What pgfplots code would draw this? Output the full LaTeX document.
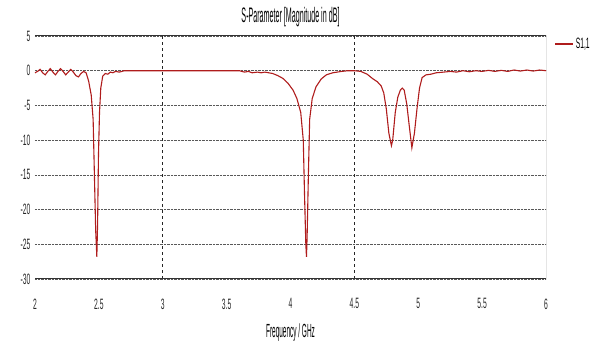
\documentclass[border=0pt]{standalone}
\usepackage{pgfplots}
\pgfplotsset{compat=1.18}
\usepackage{fontspec}
\setmainfont{Liberation Sans}[FakeStretch=0.45]
\newfontfamily\narrowfont{Liberation Sans}[FakeStretch=0.34]
\usetikzlibrary{calc}
\definecolor{curve}{RGB}{175,28,28}

\begin{document}
\begin{tikzpicture}
\begin{axis}[
  name=ax,
  scale only axis,
  width=511pt, height=243pt,
  xmin=2, xmax=6, ymin=-30, ymax=5,
  xtick={2,2.5,...,6},
  ytick={-30,-25,...,5},
  xticklabels={2,2.5,3,3.5,4,4.5,5,5.5,6},
  yticklabels={-30,-25,-20,-15,-10,-5,0,5},
  major tick length=0pt,
  axis line style={draw=none},
  ymajorgrids,
  grid style={black!65, densely dotted, line width=0.6pt},
  extra x ticks={3,4.5},
  extra x tick labels={},
  extra x tick style={grid=major, major grid style={black!85, dashed, line width=0.9pt}, major tick length=0pt},
  tick label style={font=\fontsize{15}{15}\selectfont, text=black!85},
  /pgf/number format/assume math mode=true,
  xticklabel style={yshift=-16pt},
  yticklabel style={xshift=-1pt},
  title={S-Parameter [Magnitude in dB]},
  title style={font=\narrowfont\fontsize{21}{21}\selectfont, yshift=0pt},
  xlabel={Frequency / GHz},
  xlabel style={font=\narrowfont\fontsize{19}{19}\selectfont, yshift=-8pt},
  legend style={at={(1,1)}, anchor=north west, xshift=7pt, yshift=1pt, draw=none, fill=none,
    font=\fontsize{15}{15}\selectfont, inner sep=1pt},
  legend cell align=left,
  legend image code/.code={\draw[#1, line width=1.6pt] (0pt,0pt) -- (18pt,0pt);},
]
\draw[black!80, line width=1pt] (rel axis cs:0,1) -- (rel axis cs:1,1) -- (rel axis cs:1,0) -- (rel axis cs:0,0);
\addplot[curve, line width=1.1pt] coordinates {
(2.00,-0.3) (2.02,-0.1) (2.04,0.2) (2.06,-0.3) (2.08,-0.6) (2.10,-0.1)
(2.12,0.3) (2.14,-0.2) (2.16,-0.6) (2.18,-0.1) (2.20,0.3) (2.22,-0.1)
(2.24,-0.6) (2.26,-0.2) (2.28,0.2) (2.30,-0.2) (2.32,-0.7) (2.34,-0.9)
(2.36,-0.4) (2.38,-0.1) (2.40,-0.3) (2.42,-1.5) (2.44,-3.5) (2.455,-7)
(2.465,-15) (2.475,-23) (2.484,-26.8) (2.49,-22) (2.497,-12) (2.505,-6)
(2.515,-2.5) (2.53,-0.8) (2.55,-0.4) (2.57,-0.5) (2.59,-0.2) (2.61,-0.3)
(2.63,-0.1) (2.66,-0.2) (2.70,0) (2.80,0) (2.90,0) (3.00,0) (3.10,0)
(3.20,0) (3.30,0) (3.40,0) (3.50,0) (3.60,0) (3.64,-0.2) (3.67,-0.1)
(3.70,-0.3) (3.74,-0.2) (3.77,-0.3) (3.80,-0.2) (3.83,-0.3) (3.86,-0.4)
(3.90,-0.7) (3.94,-1.1) (3.98,-1.8) (4.02,-2.8) (4.05,-4) (4.08,-6)
(4.10,-10) (4.11,-18) (4.12,-25) (4.125,-26.8) (4.13,-24) (4.14,-15)
(4.15,-7) (4.17,-4) (4.20,-2.3) (4.24,-1.2) (4.28,-0.6) (4.33,-0.3)
(4.40,-0.1) (4.45,0) (4.50,0) (4.55,-0.1) (4.60,-0.5) (4.64,-1.1)
(4.68,-1.6) (4.71,-2.2) (4.73,-3.2) (4.75,-5.5) (4.77,-9) (4.79,-10.8)
(4.80,-10) (4.82,-6) (4.84,-3.8) (4.86,-2.8) (4.875,-2.5) (4.89,-2.8)
(4.91,-4.8) (4.93,-8) (4.95,-11.1) (4.97,-9) (4.99,-5.5) (5.01,-2.5)
(5.03,-1) (5.06,-0.6) (5.10,-0.5) (5.14,-0.3) (5.20,-0.2) (5.25,-0.1)
(5.30,-0.2) (5.35,0) (5.40,-0.15) (5.45,0) (5.50,-0.1) (5.55,0.05)
(5.60,-0.1) (5.65,0.05) (5.70,-0.1) (5.75,0.1) (5.80,-0.05) (5.85,0.1)
(5.90,-0.05) (5.95,0.1) (6.00,0)
};
\addlegendentry{S1,1}
\end{axis}
\useasboundingbox ($(ax.south west)+(-35pt,-68pt)$) rectangle ($(ax.north east)+(48pt,36pt)$);
\end{tikzpicture}
\end{document}
